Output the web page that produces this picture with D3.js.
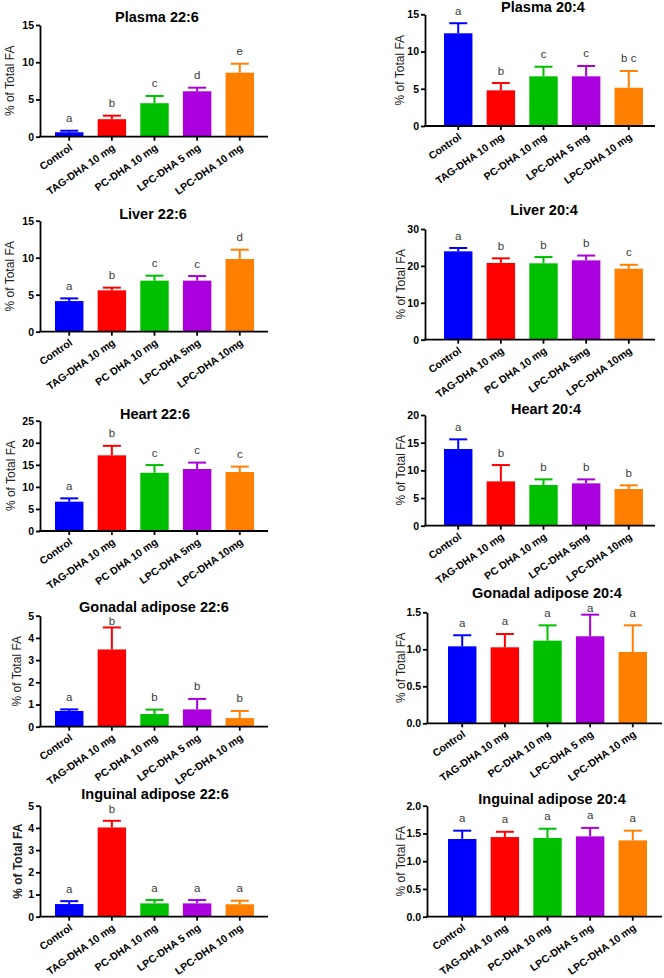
<!DOCTYPE html>
<html><head><meta charset="utf-8">
<script src="https://cdn.jsdelivr.net/npm/d3@7"></script>
<style>
body{margin:0;background:#fff;}
svg{display:block;font-family:"Liberation Sans",Arial,sans-serif;}
</style>
</head><body>
<svg id="chart" width="664" height="978"></svg>
<script>
// ---------- data ----------
const categoriesA = ["Control","TAG-DHA 10 mg","PC-DHA 10 mg","LPC-DHA 5 mg","LPC-DHA 10 mg"];
const categoriesB = ["Control","TAG-DHA 10 mg","PC DHA 10 mg","LPC-DHA 5mg","LPC-DHA 10mg"];
const barColors = ["#0000ff","#ff0000","#00bf00","#aa00dd","#ff8000"];

const plasma226Mean = [0.6, 2.35, 4.5, 6.1, 8.6];
const plasma226Err  = [0.2, 0.47, 0.97, 0.48, 1.2];
const plasma226Sig  = ["a","b","c","d","e"];

const plasma204Mean = [12.45, 4.79, 6.67, 6.67, 5.14];
const plasma204Err  = [1.35, 0.98, 1.29, 1.39, 2.25];
const plasma204Sig  = ["a","b","c","c","b c"];

const liver226Mean = [4.14, 5.59, 6.9, 6.9, 9.82];
const liver226Err  = [0.36, 0.36, 0.67, 0.62, 1.26];
const liver226Sig  = ["a","b","c","c","d"];

const liver204Mean = [23.95, 20.8, 20.7, 21.5, 19.25];
const liver204Err  = [0.9, 1.25, 1.7, 1.3, 1.05];
const liver204Sig  = ["a","b","b","b","c"];

const heart226Mean = [6.65, 17.15, 13.2, 14.05, 13.37];
const heart226Err  = [0.75, 2.15, 1.75, 1.45, 1.23];
const heart226Sig  = ["a","b","c","c","c"];

const heart204Mean = [13.86, 8.01, 7.35, 7.65, 6.63];
const heart204Err  = [1.74, 2.95, 1.02, 0.72, 0.66];
const heart204Sig  = ["a","b","b","b","b"];

const gonadal226Mean = [0.71, 3.48, 0.57, 0.78, 0.39];
const gonadal226Err  = [0.07, 0.99, 0.2, 0.47, 0.32];
const gonadal226Sig  = ["a","b","b","b","b"];

const gonadal204Mean = [1.04, 1.027, 1.117, 1.176, 0.964];
const gonadal204Err  = [0.15, 0.18, 0.207, 0.292, 0.36];
const gonadal204Sig  = ["a","a","a","a","a"];

const inguinal226Mean = [0.57, 4.02, 0.6, 0.6, 0.56];
const inguinal226Err  = [0.13, 0.3, 0.15, 0.15, 0.16];
const inguinal226Sig  = ["a","b","a","a","a"];

const inguinal204Mean = [1.40, 1.435, 1.42, 1.447, 1.375];
const inguinal204Err  = [0.15, 0.095, 0.165, 0.153, 0.175];
const inguinal204Sig  = ["a","a","a","a","a"];

const ticks15 = [0,5,10,15];
const ticks30 = [0,10,20,30];
const ticks25 = [0,5,10,15,20,25];
const ticks20 = [0,5,10,15,20];
const ticks5  = [0,1,2,3,4,5];
const ticks1_5 = [0,0.5,1.0,1.5];
const ticks2_0 = [0,0.5,1.0,1.5,2.0];

const yLabel = "% of Total FA";

// ---------- layout ----------
const L = {axisX:40, axisEnd:268, bar0:55, bar1:254};
const R = {axisX:425, axisEnd:655, bar0:444, bar1:643};
const R2 = {axisX:427, axisEnd:662, bar0:448, bar1:647};

const panels = [
  {title:"Plasma 22:6", cats:categoriesA, mean:plasma226Mean, err:plasma226Err, sig:plasma226Sig, ticks:ticks15, fmt:"d",
   g:L, y0:136.7, yTop:25, tx:157, ty:21.5, lx:13.5},
  {title:"Plasma 20:4", cats:categoriesA, mean:plasma204Mean, err:plasma204Err, sig:plasma204Sig, ticks:ticks15, fmt:"d",
   g:R, y0:126, yTop:14.3, tx:543, ty:11.7, lx:404},
  {title:"Liver 22:6", cats:categoriesB, mean:liver226Mean, err:liver226Err, sig:liver226Sig, ticks:ticks15, fmt:"d",
   g:L, y0:331.7, yTop:220.7, tx:153, ty:219.3, lx:14},
  {title:"Liver 20:4", cats:categoriesB, mean:liver204Mean, err:liver204Err, sig:liver204Sig, ticks:ticks30, fmt:"d",
   g:R, y0:339.7, yTop:229, tx:544, ty:215, lx:405},
  {title:"Heart 22:6", cats:categoriesB, mean:heart226Mean, err:heart226Err, sig:heart226Sig, ticks:ticks25, fmt:"d",
   g:L, y0:531, yTop:420.7, tx:155, ty:419, lx:15},
  {title:"Heart 20:4", cats:categoriesB, mean:heart204Mean, err:heart204Err, sig:heart204Sig, ticks:ticks20, fmt:"d",
   g:R, y0:525.7, yTop:415, tx:546, ty:414, lx:405},
  {title:"Gonadal adipose 22:6", cats:categoriesA, mean:gonadal226Mean, err:gonadal226Err, sig:gonadal226Sig, ticks:ticks5, fmt:"d",
   g:L, y0:726.7, yTop:615.7, tx:154, ty:611.7, lx:21},
  {title:"Gonadal adipose 20:4", cats:categoriesA, mean:gonadal204Mean, err:gonadal204Err, sig:gonadal204Sig, ticks:ticks1_5, fmt:".1f",
   g:R2, y0:723.3, yTop:612.3, tx:547, ty:598.3, lx:405},
  {title:"Inguinal adipose 22:6", cats:categoriesA, mean:inguinal226Mean, err:inguinal226Err, sig:inguinal226Sig, ticks:ticks5, fmt:"d",
   g:L, y0:916.7, yTop:805.7, tx:155, ty:799.3, lx:22, boldLabel:true},
  {title:"Inguinal adipose 20:4", cats:categoriesA, mean:inguinal204Mean, err:inguinal204Err, sig:inguinal204Sig, ticks:ticks2_0, fmt:".1f",
   g:R2, y0:916.7, yTop:805.7, tx:552, ty:803.7, lx:405}
];

const svg = d3.select("#chart");

panels.forEach(p => {
  const gp = svg.append("g");
  const max = p.ticks[p.ticks.length-1];
  const y = d3.scaleLinear().domain([0,max]).range([p.y0,p.yTop]);
  const x = d3.scaleBand().domain(p.cats).range([p.g.bar0,p.g.bar1]).paddingInner(0.333).paddingOuter(0);
  const bw = x.bandwidth();
  const rows = p.cats.map((c,i)=>({c, m:p.mean[i], e:p.err[i], s:p.sig[i], col:barColors[i]}));

  // title
  const title = gp.append("text").attr("x",p.tx).attr("y",p.ty).attr("text-anchor","middle")
    .attr("font-size",14.5).attr("font-weight","bold").attr("fill","#000").text(p.title);
  const tb = title.node().getBBox();

  // bars
  gp.selectAll("rect.bar").data(rows).join("rect")
    .attr("x", d=>x(d.c)).attr("y", d=>y(d.m))
    .attr("width", bw).attr("height", d=>p.y0 - y(d.m))
    .attr("fill", d=>d.col);

  // error bars (upper)
  gp.selectAll("line.err").data(rows).join("line")
    .attr("x1", d=>x(d.c)+bw/2).attr("x2", d=>x(d.c)+bw/2)
    .attr("y1", d=>y(d.m)).attr("y2", d=>y(d.m+d.e))
    .attr("stroke", d=>d.col).attr("stroke-width",2);
  gp.selectAll("line.cap").data(rows).join("line")
    .attr("x1", d=>x(d.c)+bw/2-9).attr("x2", d=>x(d.c)+bw/2+9)
    .attr("y1", d=>y(d.m+d.e)).attr("y2", d=>y(d.m+d.e))
    .attr("stroke", d=>d.col).attr("stroke-width",2);

  // significance letters (kept clear of the title)
  const letterY = d => {
    const cx = x(d.c)+bw/2;
    let yy = y(d.m+d.e)-8.5;
    if (cx > tb.x-6 && cx < tb.x+tb.width+6) yy = Math.max(yy, p.ty+13.5);
    return yy;
  };
  gp.selectAll("text.sig").data(rows).join("text")
    .attr("x", d=>x(d.c)+bw/2).attr("y", letterY)
    .attr("text-anchor","middle").attr("font-size",11.5).attr("fill","#3a3a3a")
    .text(d=>d.s);

  // y axis
  const ya = gp.append("g").attr("transform",`translate(${p.g.axisX},0)`)
    .call(d3.axisLeft(y).tickValues(p.ticks).tickSizeInner(4).tickSizeOuter(0).tickPadding(2)
      .tickFormat(d3.format(p.fmt)));
  ya.selectAll("path,line").attr("stroke","#000").attr("stroke-width",1.8);
  ya.selectAll("text").attr("font-size",10.5).attr("font-weight","bold").attr("fill","#000")
    .attr("font-family","Liberation Sans, Arial, sans-serif");

  // x axis
  const xa = gp.append("g").attr("transform",`translate(0,${p.y0})`)
    .call(d3.axisBottom(x).tickSizeInner(4).tickSizeOuter(0));
  xa.select("path.domain").remove();
  xa.selectAll("line").attr("stroke","#000").attr("stroke-width",1.8);
  xa.selectAll("text").attr("x",0).attr("y",0).attr("dy",0)
    .attr("transform","translate(4,12.5) rotate(-35)")
    .style("text-anchor","end").attr("font-size",10.5).attr("font-weight","bold").attr("fill","#000")
    .attr("font-family","Liberation Sans, Arial, sans-serif");
  gp.append("line").attr("x1",p.g.axisX-0.9).attr("x2",p.g.axisEnd)
    .attr("y1",p.y0).attr("y2",p.y0).attr("stroke","#000").attr("stroke-width",1.8);

  // y label
  gp.append("text").attr("transform",`translate(${p.lx},${(p.y0+p.yTop)/2}) rotate(-90)`)
    .attr("text-anchor","middle").attr("font-size",12)
    .attr("font-weight", p.boldLabel ? "bold" : "normal")
    .attr("fill","#222").text(yLabel);
});
</script>
</body></html>
